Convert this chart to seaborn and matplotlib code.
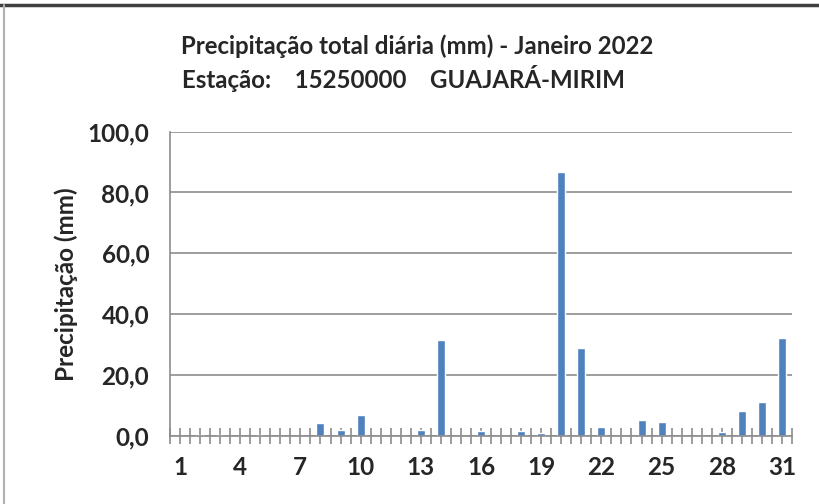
import matplotlib
matplotlib.use("Agg")
import matplotlib.pyplot as plt
import seaborn as sns
import pandas as pd
import numpy as np
from matplotlib.lines import Line2D

days = list(range(1, 32))
precip = [0, 0.3, 0.3, 0, 0.3, 0, 0, 4.2, 2.0, 6.8,
          0, 0, 2.0, 31.5, 0, 1.5, 0, 1.8, 1.0, 86.7,
          28.8, 3.0, 0, 5.2, 4.5, 0, 0, 1.2, 8.1, 11.2, 32.2]
yticks = [0, 20, 40, 60, 80, 100]
ytick_labels = ["0,0", "20,0", "40,0", "60,0", "80,0", "100,0"]
title1 = "Precipitação total diária (mm) - Janeiro 2022"
title2 = "Estação:    15250000    GUAJARÁ-MIRIM"
ylabel = "Precipitação (mm)"

sns.set_theme(style="white")
plt.rcParams['font.family'] = ['Lato', 'DejaVu Sans']

df = pd.DataFrame({"dia": [str(d) for d in days], "precip": precip})

fig = plt.figure(figsize=(8.2, 5.04), dpi=100)
ax = fig.add_axes([170/820, 68/504, 622/820, 304.4/504])

sns.barplot(data=df, x="dia", y="precip", color="#4F81BD", width=0.4,
            saturation=1, ax=ax, order=[str(d) for d in days])

ax.set_xlim(-0.5, 30.5)
ax.set_ylim(0, 100)
ax.set_yticks(yticks)
ax.set_yticklabels(ytick_labels, fontsize=17.5, fontweight="bold")
ax.yaxis.grid(True, color="#8c8c8c", linewidth=1.2)
ax.set_axisbelow(True)

ax.set_xticks(range(31))
ax.set_xticklabels([str(d) if (d - 1) % 3 == 0 else "" for d in days],
                   fontsize=17.5, fontweight="bold")
ax.set_xticks(np.arange(-0.5, 31, 1), minor=True)
ax.tick_params(axis="x", which="both", direction="inout", length=11,
               color="#8c8c8c", width=1.2, bottom=True)
ax.tick_params(axis="x", which="major", pad=9)
ax.tick_params(axis="y", length=0, pad=15)

for s in ["top", "right"]:
    ax.spines[s].set_visible(False)
for s in ["left", "bottom"]:
    ax.spines[s].set_color("#8c8c8c")
    ax.spines[s].set_linewidth(1.2)

ax.set_xlabel("")
ax.set_ylabel(ylabel, fontsize=17.5, fontweight="bold", labelpad=7)

fig.text(417/820, 1 - 46/504, title1, ha="center", va="center",
         fontsize=17.3, fontweight="bold")
fig.text(403/820, 1 - 78/504, title2, ha="center", va="center",
         fontsize=17.3, fontweight="bold")

fig.add_artist(Line2D([0, 1], [1 - 4.5/504, 1 - 4.5/504], transform=fig.transFigure,
                      color="#404040", linewidth=2.5))
fig.add_artist(Line2D([3.5/820, 3.5/820], [0, 1 - 4.5/504], transform=fig.transFigure,
                      color="#b0b0b0", linewidth=1.5))

fig.savefig("out.png", dpi=100)
